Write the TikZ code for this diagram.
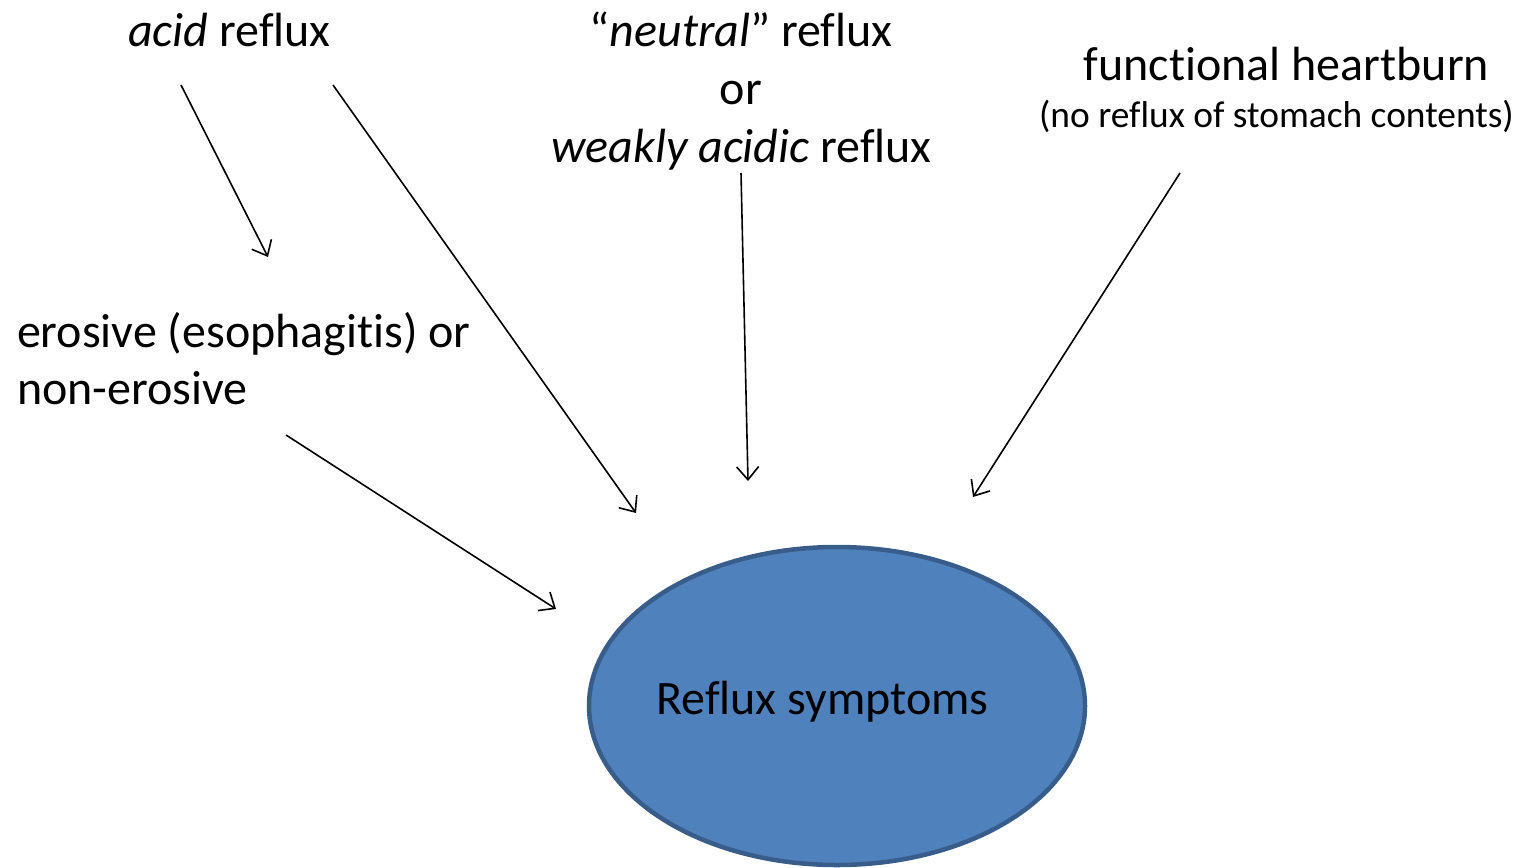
\documentclass[tikz,border=0pt]{standalone}
\usepackage{fontspec}
\setmainfont[Ligatures=NoCommon]{Carlito}
\usetikzlibrary{arrows.meta,shapes.geometric}
\definecolor{fillblue}{HTML}{4F81BD}
\definecolor{edgeblue}{HTML}{385D8A}
\tikzset{
  lbl/.style={inner sep=0pt, outer sep=0pt, font=\fontsize{48}{58}\selectfont},
  smalllbl/.style={inner sep=0pt, outer sep=0pt, font=\fontsize{37.4}{45}\selectfont},
  arr/.style={line width=1.6pt, -{Straight Barb[length=13pt,width=22pt,line width=1.6pt]}},
}
\begin{document}
\begin{tikzpicture}[x=1pt,y=-1pt]
\useasboundingbox (0,0) rectangle (1517,867);
% ellipse
\node[ellipse, draw=edgeblue, fill=fillblue, line width=4.5pt, minimum width=496pt, minimum height=318pt, inner sep=0pt] (sym) at (837,706) {};
\node[lbl, anchor=base] (symtext) at (822.5,714) {Reflux symptoms};
% labels
\node[lbl, anchor=base] (acid) at (229.5,47) {\textit{acid} reflux};
\node[lbl, anchor=base] (neutral) at (741,47) {“\textit{neutral}” reflux};
\node[lbl, anchor=base] (or) at (741,104.5) {or};
\node[lbl, anchor=base] (weak) at (741.5,162) {\textit{weakly acidic} reflux};
\node[lbl, anchor=base] (func) at (1286.5,80) {functional heartburn};
\node[smalllbl, anchor=base] (noreflux) at (1276.5,127) {(no reflux of stomach contents)};
\node[lbl, anchor=base west] (eros1) at (17,347) {erosive (esophagitis) or};
\node[lbl, anchor=base west] (eros2) at (17,404) {non-erosive};
% connector end points
\coordinate (a1s) at (181,85);
\coordinate (a1e) at (268,257);
\coordinate (a2s) at (333,85);
\coordinate (a2e) at (636,513);
\coordinate (a3s) at (741,173);
\coordinate (a3e) at (748,481);
\coordinate (a4s) at (1180,173);
\coordinate (a4e) at (973,497);
\coordinate (a5s) at (286,435);
\coordinate (a5e) at (556,609);
\draw[arr] (a1s) -- (a1e);
\draw[arr] (a2s) -- (a2e);
\draw[arr] (a3s) -- (a3e);
\draw[arr] (a4s) -- (a4e);
\draw[arr] (a5s) -- (a5e);
\end{tikzpicture}
\end{document}
